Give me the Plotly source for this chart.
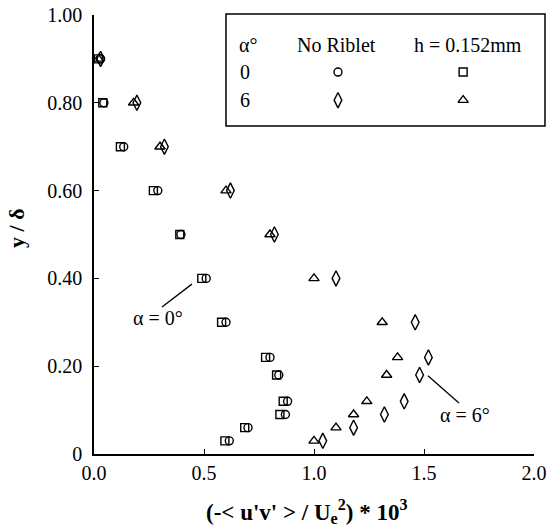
import plotly.graph_objects as go

# Heights across the boundary layer (y / delta)
y_levels = [0.90, 0.80, 0.70, 0.60, 0.50, 0.40, 0.30, 0.22, 0.18, 0.12, 0.09, 0.06, 0.03]

# Reynolds shear stress (-<u'v'>/Ue^2) * 1e3
a0_no_riblet = [0.03, 0.045, 0.135, 0.29, 0.395, 0.51, 0.60, 0.80, 0.84, 0.88, 0.87, 0.70, 0.615]
a0_riblet = [0.02, 0.04, 0.12, 0.27, 0.39, 0.49, 0.58, 0.78, 0.83, 0.86, 0.845, 0.685, 0.595]
a6_no_riblet = [0.03, 0.195, 0.32, 0.62, 0.82, 1.10, 1.46, 1.52, 1.48, 1.41, 1.32, 1.18, 1.04]
a6_riblet = [0.02, 0.18, 0.30, 0.60, 0.80, 1.00, 1.31, 1.38, 1.33, 1.24, 1.18, 1.10, 1.00]

x_ticks = [0.0, 0.5, 1.0, 1.5, 2.0]
x_tick_text = ["0.0", "0.5", "1.0", "1.5", "2.0"]
y_ticks = [0.0, 0.2, 0.4, 0.6, 0.8, 1.0]
y_tick_text = ["0", "0.20", "0.40", "0.60", "0.80", "1.00"]

FONT = "Liberation Serif"
BLACK = "black"

series = [
    (a0_riblet, "square-open", 8),
    (a0_no_riblet, "circle-open", 8),
    (a6_riblet, "triangle-up-open", 9),
    (a6_no_riblet, "diamond-tall-open", 11),
]

fig = go.Figure()
for xs, sym, sz in series:
    fig.add_trace(go.Scatter(
        x=xs, y=y_levels, mode="markers", cliponaxis=False, showlegend=False,
        marker=dict(symbol=sym, size=sz, color=BLACK, line=dict(color=BLACK, width=1.4)),
    ))

# Hand-made legend table (paper-like overlay axes)
legend_cols = [0.5545, 0.839]
legend_rows = [0.870, 0.806]
legend_syms = [["circle-open", "square-open"], ["diamond-tall-open", "triangle-up-open"]]
legend_sizes = [[8, 8], [11, 9]]
for r, yr in enumerate(legend_rows):
    for c, xc in enumerate(legend_cols):
        fig.add_trace(go.Scatter(
            x=[xc], y=[yr], xaxis="x2", yaxis="y2", mode="markers",
            cliponaxis=False, showlegend=False,
            marker=dict(symbol=legend_syms[r][c], size=legend_sizes[r][c], color=BLACK,
                        line=dict(color=BLACK, width=1.4)),
        ))

axis_common = dict(
    showline=True, linecolor=BLACK, linewidth=1.5, mirror=False,
    ticks="inside", ticklen=5, tickwidth=1.3, tickcolor=BLACK,
    showgrid=False, zeroline=False, automargin=False,
    tickfont=dict(family=FONT, size=20, color=BLACK),
)

fig.update_layout(
    width=549, height=528,
    margin=dict(l=94, r=15, t=15, b=74),
    paper_bgcolor="white", plot_bgcolor="white",
    xaxis=dict(range=[0, 2.0], tickvals=x_ticks, ticktext=x_tick_text, **axis_common),
    yaxis=dict(range=[0, 1.0], tickvals=y_ticks, ticktext=y_tick_text,
               ticklabelstandoff=6, **axis_common),
    xaxis2=dict(overlaying="x", range=[0, 1], visible=False),
    yaxis2=dict(overlaying="y", range=[0, 1], visible=False),
)


def label(text, x, y, size=20, xanchor="center", **kw):
    return dict(text=text, x=x, y=y, xref="paper", yref="paper", showarrow=False,
                xanchor=xanchor, yanchor="middle",
                font=dict(family=FONT, size=size, color=BLACK), **kw)


annotations = [
    label("<b>(-&lt; u'v' &gt; / U<sub>e</sub><sup>2</sup>) * 10<sup>3</sup></b>",
          0.485, -0.13, size=23),
    label("<b>y / δ</b>", -0.175, 0.515, size=22, textangle=-90),
    # legend table text
    label("α°", 0.325, 0.932, xanchor="left"),
    label("No Riblet", 0.552, 0.932),
    label("h = 0.152mm", 0.85, 0.932),
    label("0", 0.328, 0.870, xanchor="left"),
    label("6", 0.328, 0.806, xanchor="left"),
    # case labels
    label("α = 0°", 0.145, 0.31),
    label("α = 6°", 0.843, 0.089),
]
fig.update_layout(annotations=annotations)

shapes = [
    # legend frame
    dict(type="rect", xref="paper", yref="paper", x0=0.30, x1=1.025, y0=0.747, y1=1.002,
         line=dict(color=BLACK, width=1.5)),
    # leader lines
    dict(type="line", xref="x", yref="y", x0=0.445, y0=0.387, x1=0.309, y1=0.335,
         line=dict(color=BLACK, width=1.3)),
    dict(type="line", xref="x", yref="y", x0=1.518, y0=0.178, x1=1.659, y1=0.116,
         line=dict(color=BLACK, width=1.3)),
]
fig.update_layout(shapes=shapes)

fig.write_html("out.html")
